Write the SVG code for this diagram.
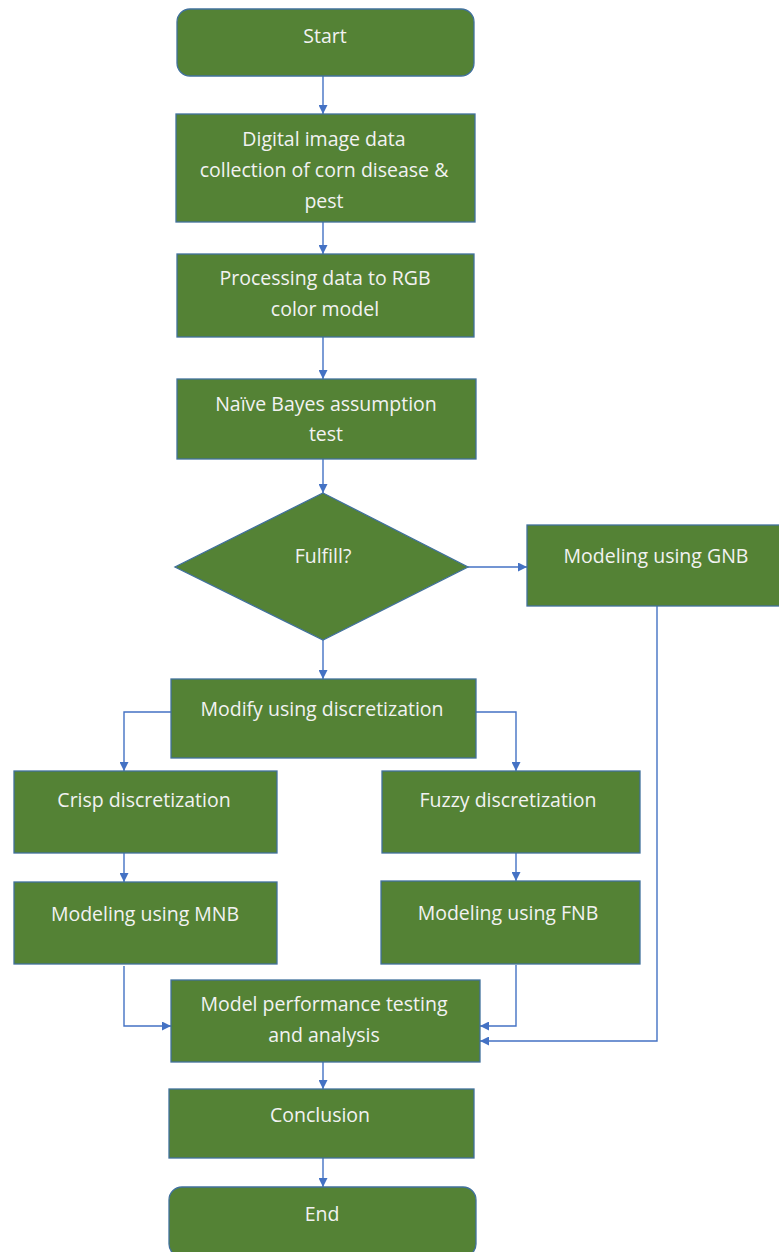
<svg xmlns="http://www.w3.org/2000/svg" width="779" height="1252" viewBox="0 0 779 1252">
<defs>
<style>
.n{fill:#548235;stroke:#41719C;stroke-width:1.3}
.t{fill:#f2f2f2;font-family:"Open Sans","Liberation Sans",sans-serif;font-size:19.5px;text-anchor:middle}
.c{fill:none;stroke:#4472C4;stroke-width:1.4}
</style>
<marker id="a" viewBox="0 0 10 10" refX="10" refY="5" markerWidth="9" markerHeight="9" markerUnits="userSpaceOnUse" orient="auto"><path d="M0,0L10,5L0,10z" fill="#4472C4"/></marker>
</defs>
<rect width="779" height="1252" fill="#ffffff"/>
<g id="connectors">
<path class="c" d="M323,76V114" marker-end="url(#a)"/>
<path class="c" d="M323,222V254" marker-end="url(#a)"/>
<path class="c" d="M323,337V379" marker-end="url(#a)"/>
<path class="c" d="M323,459V493" marker-end="url(#a)"/>
<path class="c" d="M468,567H527" marker-end="url(#a)"/>
<path class="c" d="M323,640V679" marker-end="url(#a)"/>
<path class="c" d="M171,712H124V771" marker-end="url(#a)"/>
<path class="c" d="M476,712H516V771" marker-end="url(#a)"/>
<path class="c" d="M124,853V882" marker-end="url(#a)"/>
<path class="c" d="M516,853V881" marker-end="url(#a)"/>
<path class="c" d="M124,966V1026H171" marker-end="url(#a)"/>
<path class="c" d="M516,965V1026H480" marker-end="url(#a)"/>
<path class="c" d="M657,606V1041H480" marker-end="url(#a)"/>
<path class="c" d="M323,1062V1089" marker-end="url(#a)"/>
<path class="c" d="M323,1158V1187" marker-end="url(#a)"/>
</g>
<g id="start"><rect class="n" x="177" y="9" width="297" height="67" rx="13"/><text class="t" x="325" y="43">Start</text></g>
<g id="collect"><rect class="n" x="176" y="114" width="299" height="108"/><text class="t" x="324" y="146">Digital image data</text><text class="t" x="324" y="177">collection of corn disease &amp;</text><text class="t" x="324" y="208">pest</text></g>
<g id="process"><rect class="n" x="177" y="254" width="297" height="83"/><text class="t" x="325" y="285">Processing data to RGB</text><text class="t" x="325" y="316">color model</text></g>
<g id="naive"><rect class="n" x="177" y="379" width="299" height="80"/><text class="t" x="326" y="411">Naïve Bayes assumption</text><text class="t" x="326" y="441">test</text></g>
<g id="fulfill"><polygon class="n" points="323,493 468,567 323,640 175,567"/><text class="t" x="323" y="563">Fulfill?</text></g>
<g id="gnb"><rect class="n" x="527" y="525" width="254" height="81"/><text class="t" x="656" y="563">Modeling using GNB</text></g>
<g id="modify"><rect class="n" x="171" y="679" width="305" height="79"/><text class="t" x="322" y="716">Modify using discretization</text></g>
<g id="crisp"><rect class="n" x="14" y="771" width="263" height="82"/><text class="t" x="144" y="807">Crisp discretization</text></g>
<g id="fuzzy"><rect class="n" x="382" y="771" width="258" height="82"/><text class="t" x="508" y="807">Fuzzy discretization</text></g>
<g id="mnb"><rect class="n" x="14" y="882" width="263" height="82"/><text class="t" x="145" y="921">Modeling using MNB</text></g>
<g id="fnb"><rect class="n" x="381" y="881" width="259" height="83"/><text class="t" x="508" y="920">Modeling using FNB</text></g>
<g id="perf"><rect class="n" x="171" y="980" width="309" height="82"/><text class="t" x="324" y="1011">Model performance testing</text><text class="t" x="324" y="1042">and analysis</text></g>
<g id="conclusion"><rect class="n" x="169" y="1089" width="305" height="69"/><text class="t" x="320" y="1122">Conclusion</text></g>
<g id="end"><rect class="n" x="169" y="1187" width="307" height="70" rx="13"/><text class="t" x="322" y="1221">End</text></g>
</svg>
